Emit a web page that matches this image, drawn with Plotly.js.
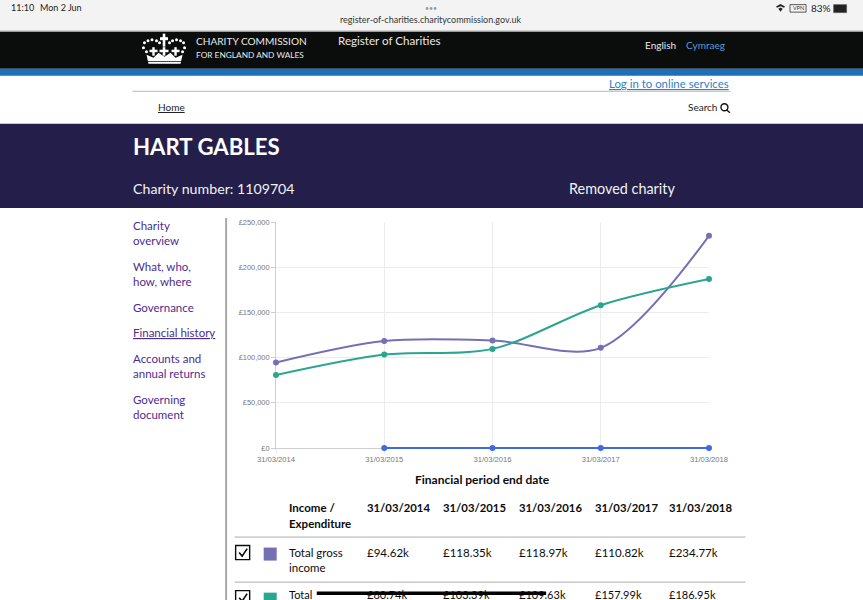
<!DOCTYPE html>
<html><head><meta charset="utf-8">
<script src="https://cdn.plot.ly/plotly-3.0.1.min.js"></script>
<style>html,body{margin:0;padding:0;background:#fff;overflow:hidden}#c{width:863px;height:600px}</style>
</head><body><div id="c"></div>
<script>
const periods = ["31/03/2014","31/03/2015","31/03/2016","31/03/2017","31/03/2018"];
const grossIncome = [94620,118350,118970,110820,234770];
const totalSecond = [80740,103390,109630,157990,186950];
const thirdSeries = [null,0,0,0,0];
const yTickValues = [0,50000,100000,150000,200000,250000];
const yTickLabels = ["£0","£50,000","£100,000","£150,000","£200,000","£250,000"];
const incomeCells = ["£94.62k","£118.35k","£118.97k","£110.82k","£234.77k"];
const secondCells = ["£80.74k","£103.39k","£109.63k","£157.99k","£186.95k"];
const sideNav = [["Charity",226],["overview",241],["What, who,",267],["how, where",282],["Governance",308],["Financial history",333],["Accounts and",359],["annual returns",374],["Governing",400],["document",415]];

// the plot area reaches 2px under the £0 line so the £0 series is not clipped in half
const W=863,H=600,L=276.3,R=708.6,T=222,B=449.6;
const px=x=>(x-L)/(R-L), py=y=>(B-y)/(B-T);
const FF='Lato, "Open Sans", sans-serif';
const shapes=[],annos=[];
const rect=(x0,y0,x1,y1,fill,line,lw)=>shapes.push({type:'rect',xref:'paper',yref:'paper',x0:px(x0),x1:px(x1),y0:py(y0),y1:py(y1),fillcolor:fill,line:{color:line||fill,width:line?(lw||1):0},layer:'below'});
const hline=(x0,x1,y,c,w)=>shapes.push({type:'line',xref:'paper',yref:'paper',x0:px(x0),x1:px(x1),y0:py(y),y1:py(y),line:{color:c,width:w||1},layer:'below'});
const poly=(pts,fill,line,lw)=>shapes.push({type:'path',xref:'paper',yref:'paper',path:pts.map((p,i)=>(i?'L':'M')+px(p[0])+','+py(p[1])).join(' ')+(fill?' Z':''),fillcolor:fill||'rgba(0,0,0,0)',line:{color:line||fill,width:line?lw:0},layer:'below'});
const dot=(x,y,r,c)=>shapes.push({type:'circle',xref:'paper',yref:'paper',x0:px(x-r),x1:px(x+r),y0:py(y+r),y1:py(y-r),fillcolor:c,line:{width:0},layer:'below'});
const txt=(x,y,t,size,color,opt)=>annos.push(Object.assign({xref:'paper',yref:'paper',x:px(x-1),y:py(y-1),text:t,showarrow:false,xanchor:'left',yanchor:'middle',borderpad:0,font:{family:FF,size:size,color:color}},opt||{}));

// browser bar and page bands
rect(0,0,W,32,'#f3f3f3');
rect(0,32,W,69,'#0b0c0c');
rect(0,69,W,76,'#1d70b8');
rect(0,124,W,208,'#231e4a');
hline(133,730,91.5,'#b8b8b8',1);
hline(0,W,31.5,'#8a8a8a',1);
shapes.push({type:'line',xref:'paper',yref:'paper',x0:px(226.5),x1:px(226.5),y0:py(218),y1:py(600),line:{color:'#a8a8a8',width:2},layer:'below'});

txt(12,9,'11:10',9,'#222');
txt(41,9,'Mon 2 Jun',9,'#222');
txt(432,9,'•••',7,'#999',{xanchor:'center'});
txt(432,21,'register-of-charities.charitycommission.gov.uk',9,'#333',{xanchor:'center'});
// status icons
poly([[775.5,7],[780,4.5],[784.5,7],[783.5,8.2],[780,6.6],[776.5,8.2]],'#222');
poly([[777.8,9],[780,8],[782.2,9],[780,12]],'#222');
rect(789.5,5,805.5,12.5,'#f3f3f3','#333',0.8);
txt(798.5,9.5,'VPN',5.5,'#333',{xanchor:'center'});
txt(810,9,'83%',10,'#222');
rect(833,5,846,13,'#222','#555',0.6);

// crown
poly([[147,55],[149,64],[181,64],[183,55],[176,58],[171,53],[165,57],[159,53],[154,58]],'#fff');
rect(147.8,61.5,182.2,62.2,'#0b0c0c');
[[144,48],[145,43],[148.5,41],[152.5,40],[157,41],[160,43],[170,43],[173,41],[177,40],[181,41],[184,43],[185,48],[147,52],[183,52]].forEach(p=>dot(p[0],p[1],1.5,'#fff'));
rect(163.2,34,165.8,47,'#fff');rect(160.5,37.5,168.5,40.5,'#fff');
rect(152.8,47.5,155.2,56,'#fff');rect(150,50,158,52.5,'#fff');
rect(163.2,47.5,165.8,56,'#fff');rect(160,50,169,52.5,'#fff');
rect(174.8,47.5,177.2,56,'#fff');rect(172,50,180,52.5,'#fff');

txt(196,42,'CHARITY COMMISSION',10.1,'#e8e8e8');
txt(196,56,'FOR ENGLAND AND WALES',8.3,'#e8e8e8');
txt(338,42,'Register of Charities',11.6,'#e8e8e8');
txt(645,46.5,'English',10,'#e8e8e8');
txt(686,46.5,'Cymraeg',10,'#5b9bd5');
txt(731,84.5,'<u>Log in to online services</u>',11.4,'#2f80c8',{xanchor:'right'});
txt(158,108.5,'<u>Home</u>',10,'#222');
txt(688,108.5,'Search',10,'#222');
shapes.push({type:'circle',xref:'paper',yref:'paper',x0:px(720.5),x1:px(727.5),y0:py(111),y1:py(104),line:{color:'#111',width:1.4},layer:'below'});
shapes.push({type:'line',xref:'paper',yref:'paper',x0:px(726),x1:px(729.5),y0:py(110),y1:py(113),line:{color:'#111',width:1.4},layer:'below'});

txt(134,147.5,'<b>HART GABLES</b>',22.2,'#fff');
txt(134,190,'Charity number: 1109704',14.2,'#f2f2f2');
txt(569,190,'Removed charity',14.4,'#f2f2f2');

sideNav.forEach(n=>{
  const u=n[0]==='Financial history';
  txt(134,n[1],u?'<u>'+n[0]+'</u>':n[0],11.5,'#4c2c92');
});

// table
const colX=[367,443,519,595,669];
txt(289,507.5,'<b>Income /</b>',11.5,'#0b0c0c');
txt(289,523.5,'<b>Expenditure</b>',11.5,'#0b0c0c');
periods.forEach((p,i)=>txt(colX[i],507.5,'<b>'+p+'</b>',11.3,'#0b0c0c'));
hline(235,745,536.5,'#a9adb0',1);
hline(235,745,581.5,'#a9adb0',1);
txt(289,552.5,'Total gross',11.5,'#0b0c0c');
txt(289,568,'income',11.5,'#0b0c0c');
incomeCells.forEach((c,i)=>txt(colX[i],552.5,c,11.5,'#0b0c0c'));
txt(289,595,'Total',11,'#0b0c0c');
secondCells.forEach((c,i)=>txt(colX[i],595,c,11,'#0b0c0c'));
const check=(y)=>{
  rect(236,y,250,y+14,'#fff','#0b0c0c',1.4);
  poly([[239.5,y+7],[242.5,y+10.5],[247.5,y+3]],null,'#0b0c0c',1.6);
};
check(545);check(590);
rect(264,547,277,560,'#7570b3');
rect(264,592,277,605,'#2aa58f');

// x title placed over the whole chart canvas as in the reference
annos.push({xref:'paper',yref:'paper',x:px(482.5),y:py(479),text:'Financial period end date',showarrow:false,xanchor:'center',yanchor:'middle',font:{family:FF,size:12,color:'#0b0c0c',weight:700}});

const series=[
  {name:'Total gross income',y:grossIncome,c:'#7570b3'},
  {name:'Total expenditure',y:totalSecond,c:'#2aa58f'},
  {name:'Other',y:thirdSeries,c:'#4169e1'}
];
const traces=series.map(s=>({type:'scatter',mode:'lines+markers',x:periods,y:s.y,name:s.name,cliponaxis:false,
  connectgaps:false,line:{color:s.c,width:2,shape:'spline',smoothing:0.9},marker:{color:s.c,size:6}}));

// redaction stroke above everything in the page
shapes.push({type:'line',xref:'paper',yref:'paper',x0:px(317),x1:px(546),y0:py(592.5),y1:py(592.5),line:{color:'#000',width:3.5},layer:'above'});

const axisFont='Liberation Sans, Arial, sans-serif';
Plotly.newPlot('c',traces,{
  width:W,height:H,showlegend:false,paper_bgcolor:'#fff',plot_bgcolor:'#fff',
  margin:{l:L,r:W-R,t:T,b:H-B,pad:0},
  xaxis:{type:'category',range:[0,4],showgrid:true,gridcolor:'#ececec',gridwidth:1,zeroline:false,layer:'below traces',
    showline:false,ticks:'outside',ticklen:2,tickcolor:'#e4e4e4',tickfont:{family:axisFont,size:7.6,color:'#777'},tickangle:0},
  yaxis:{range:[-2216,250000],tickmode:'array',tickvals:yTickValues,ticktext:yTickLabels,layer:'below traces',
    showgrid:true,gridcolor:'#ececec',zeroline:true,zerolinecolor:'#cfcfcf',zerolinewidth:1,showline:true,linecolor:'#cfcfcf',ticks:'outside',ticklen:4,tickcolor:'#cfcfcf',tickfont:{family:axisFont,size:7.4,color:'#777'}},
  shapes:shapes,annotations:annos,hovermode:false
},{displayModeBar:false,staticPlot:true});
</script></body></html>
